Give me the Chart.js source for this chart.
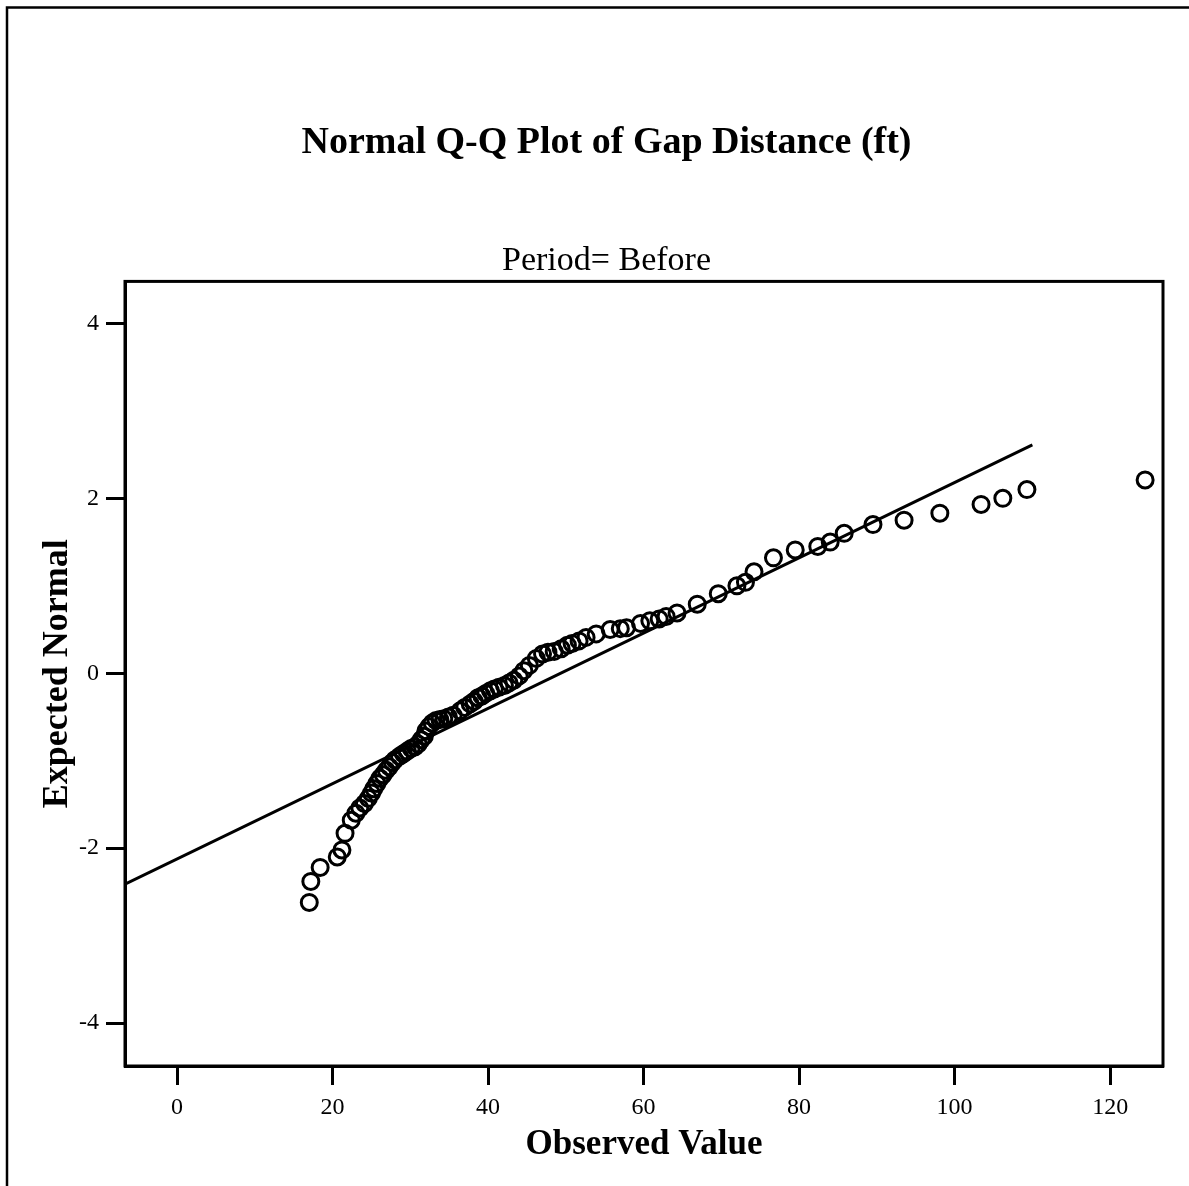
<!DOCTYPE html>
<html>
<head>
<meta charset="utf-8">
<script src="https://cdn.jsdelivr.net/npm/chart.js@4/dist/chart.umd.min.js"></script>
<style>
  html, body { margin: 0; padding: 0; background: #fff; }
  #wrap { width: 1189px; height: 1186px; position: relative; }
</style>
</head>
<body>
<div id="wrap"><canvas id="qq"></canvas></div>
<script>
// observed gap distance (ft) vs expected normal value
var observed = [
  17.0, 17.2, 18.4, 20.6, 21.2, 21.6, 22.4, 23.0, 23.5, 24.1,
  24.6, 25.0, 25.3, 25.7, 26.1, 26.5, 26.9, 27.3, 27.7, 28.0,
  28.6, 29.1, 29.6, 30.1, 30.6, 31.0, 31.4, 31.8, 32.0, 32.4,
  32.8, 33.3, 33.8, 34.3, 34.9, 35.5, 36.4, 37.0, 37.7, 38.2,
  38.7, 39.2, 39.7, 40.3, 40.8, 41.4, 42.1, 42.7, 43.3, 44.0,
  44.6, 45.3, 46.2, 47.0, 47.7, 48.5, 49.4, 50.2, 50.8, 51.7,
  52.6, 53.9, 55.7, 57.0, 57.8, 59.6, 60.8, 62.0, 62.9, 64.3,
  66.9, 69.6, 72.0, 73.1, 74.2, 76.7, 79.5, 82.4, 84.0, 85.8,
  89.5, 93.5, 98.1, 103.4, 106.2, 109.3, 124.5
];
var expectedNormal = [
  -2.62, -2.38, -2.22, -2.10, -2.02, -1.83, -1.68, -1.60, -1.54, -1.49,
  -1.43, -1.37, -1.32, -1.26, -1.20, -1.16, -1.11, -1.07, -1.02, -0.99,
  -0.95, -0.92, -0.89, -0.86, -0.84, -0.81, -0.76, -0.72, -0.66, -0.61,
  -0.57, -0.54, -0.53, -0.52, -0.50, -0.48, -0.43, -0.39, -0.35, -0.32,
  -0.28, -0.26, -0.23, -0.20, -0.18, -0.16, -0.14, -0.11, -0.08, -0.03,
  0.03, 0.09, 0.17, 0.22, 0.24, 0.25, 0.28, 0.32, 0.34, 0.37,
  0.41, 0.45, 0.50, 0.51, 0.52, 0.57, 0.60, 0.62, 0.65, 0.69,
  0.79, 0.91, 1.00, 1.04, 1.16, 1.32, 1.41, 1.45, 1.50, 1.60,
  1.70, 1.75, 1.83, 1.93, 2.00, 2.10, 2.21
];

// reference line end points
var lineX = [-6.7, 110.0];
var lineY = [-2.41, 2.61];

var xTicks = [0, 20, 40, 60, 80, 100, 120];
var yTicks = [-4, -2, 0, 2, 4];

var serif = "'Liberation Serif', 'Times New Roman', serif";

var points = observed.map(function(v, i) { return { x: v, y: expectedNormal[i] } });
var refLine = lineX.map(function(v, i) { return { x: v, y: lineY[i] } });

// frame round the plot area, plus the cut-off outer border of the page
var frames = {
  id: 'frames',
  beforeDraw: function(chart) {
    var ctx = chart.ctx;
    ctx.save();
    ctx.fillStyle = '#fff';
    ctx.fillRect(0, 0, chart.width, chart.height);
    ctx.strokeStyle = '#000';
    ctx.lineWidth = 2.5;
    ctx.beginPath();
    ctx.moveTo(7, chart.height);
    ctx.lineTo(7, 7.5);
    ctx.lineTo(chart.width, 7.5);
    ctx.stroke();
    ctx.restore();
  },
  afterDraw: function(chart) {
    var a = chart.chartArea, ctx = chart.ctx;
    ctx.save();
    ctx.strokeStyle = '#000';
    ctx.lineWidth = 3;
    ctx.strokeRect(a.left, a.top, a.right - a.left, a.bottom - a.top);
    ctx.restore();
  }
};

var ctx = document.getElementById('qq').getContext('2d');
var chart = new Chart(ctx, {
  type: 'scatter',
  data: {
    datasets: [{
      label: 'Observed',
      data: points,
      pointStyle: 'circle',
      pointRadius: 8,
      pointBorderWidth: 3,
      borderColor: '#000',
      backgroundColor: 'rgba(0,0,0,0)',
      showLine: false
    }, {
      type: 'line',
      label: 'Normal line',
      data: refLine,
      borderColor: '#000',
      borderWidth: 3,
      pointRadius: 0,
      fill: false
    }]
  },
  options: {
    responsive: true,
    maintainAspectRatio: false,
    animation: false,
    layout: { padding: { left: 50, right: 26, top: 0, bottom: 0 } },
    plugins: {
      legend: { display: false },
      tooltip: { enabled: false },
      title: {
        display: true,
        text: 'Normal Q-Q Plot of Gap Distance (ft)',
        color: '#000',
        font: { family: serif, size: 38, weight: 'bold' },
        padding: { top: 120, bottom: 0 }
      },
      subtitle: {
        display: true,
        text: 'Period= Before',
        color: '#000',
        font: { family: serif, size: 34, weight: 'normal' },
        padding: { top: 75, bottom: 0 }
      }
    },
    scales: {
      x: {
        type: 'linear',
        min: -6.7,
        max: 126.8,
        afterBuildTicks: function(s) { s.ticks = xTicks.map(function(v) { return { value: v } }) },
        afterFit: function(s) { s.height = 120 },
        ticks: { color: '#000', font: { family: serif, size: 24 }, padding: 8 },
        grid: { display: true, drawOnChartArea: false, drawTicks: true, tickLength: 19, tickWidth: 3, tickColor: '#000' },
        border: { display: true, color: '#000', width: 3 },
        title: {
          display: true,
          text: 'Observed Value',
          color: '#000',
          font: { family: serif, size: 35, weight: 'bold' },
          padding: { top: 0, bottom: 20 }
        }
      },
      y: {
        type: 'linear',
        min: -4.49,
        max: 4.48,
        afterBuildTicks: function(s) { s.ticks = yTicks.map(function(v) { return { value: v } }) },
        afterFit: function(s) { s.width = 75 },
        ticks: { color: '#000', font: { family: serif, size: 24 }, padding: 7 },
        grid: { display: true, drawOnChartArea: false, drawTicks: true, tickLength: 19, tickWidth: 3, tickColor: '#000' },
        border: { display: true, color: '#000', width: 3 },
        title: {
          display: true,
          text: 'Expected Normal',
          color: '#000',
          // small line height only moves the title's centre line to x ~57
          font: { family: serif, size: 36, weight: 'bold', lineHeight: 0.42 },
          padding: { top: 0, bottom: 0 }
        }
      }
    }
  },
  plugins: [frames]
});
</script>
</body>
</html>
